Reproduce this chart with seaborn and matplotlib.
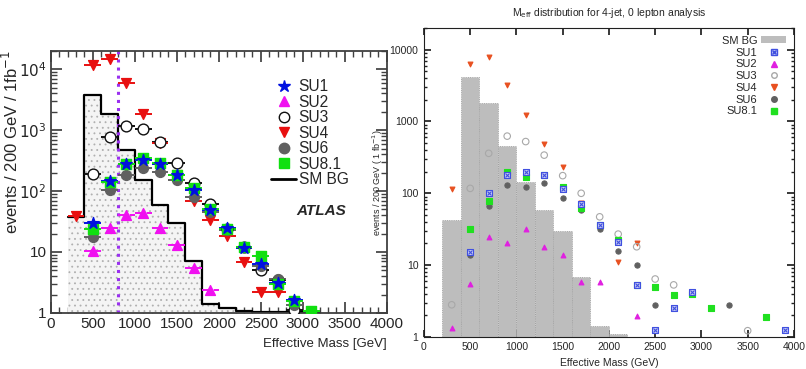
import numpy as np
import pandas as pd
import matplotlib
matplotlib.use("Agg")
import matplotlib.pyplot as plt
from matplotlib.ticker import FixedLocator, FixedFormatter, MultipleLocator, LogLocator, NullFormatter
from matplotlib.lines import Line2D
from matplotlib.patches import Patch
import seaborn as sns

# ---------------- data: left panel (ATLAS) ----------------
bin_edges = list(range(200, 3201, 200))
left_bg = [38, 3800, 1820, 470, 151, 60, 30, 7, 1.42, 1.2, 1.06, 1.04, 1.03, 1.02, 1.01]

left_x = {
    "SU1": [500, 700, 900, 1100, 1300, 1500, 1700, 1900, 2100, 2300, 2500, 2700, 2900],
    "SU2": [500, 700, 900, 1100, 1300, 1500, 1700, 1900],
    "SU3": [500, 700, 900, 1100, 1300, 1500, 1700, 1900, 2100, 2300, 2500, 2700, 2900],
    "SU4": [300, 500, 700, 900, 1100, 1300, 1500, 1700, 1900, 2100, 2300, 2500, 2700],
    "SU6": [500, 700, 900, 1100, 1300, 1500, 1700, 1900, 2100, 2300, 2500, 2700, 2900],
    "SU8.1": [500, 700, 900, 1100, 1300, 1500, 1700, 1900, 2100, 2300, 2500, 2700, 2900, 3100],
}
left_y = {
    "SU1": [30, 144, 276, 325, 276, 185, 105, 49, 25, 11.6, 6.3, 3.1, 1.6],
    "SU2": [10.2, 25, 41, 43, 24.7, 12.8, 5.5, 2.4],
    "SU3": [192, 767, 1180, 1040, 640, 290, 135, 61, 24, 12, 5, 3.5, 1.1],
    "SU4": [39.5, 11700, 15000, 6000, 1820, 610, 185, 68, 33, 18, 6.8, 2.2, 2.2],
    "SU6": [17.4, 105, 185, 240, 207, 150, 81, 45, 23, 12, 5.8, 3.6, 1.37],
    "SU8.1": [24, 139, 280, 345, 290, 185, 112, 50, 24, 12, 8.5, 3.0, 1.55, 1.09],
}

# ---------------- data: right panel ----------------
right_bg_edges = list(range(200, 2201, 200))
right_bg = [42.5, 4100, 1780, 460, 145, 59, 29.6, 6.9, 1.4, 1.1]

right_x = {
    "SU1": [500, 700, 900, 1100, 1300, 1500, 1700, 1900, 2100, 2300, 2500, 2700, 2900, 3900],
    "SU2": [300, 500, 700, 900, 1100, 1300, 1500, 1700, 1900, 2300],
    "SU3": [300, 500, 700, 900, 1100, 1300, 1500, 1700, 1900, 2100, 2300, 2500, 2700, 3500],
    "SU4": [300, 500, 700, 900, 1100, 1300, 1500, 1700, 2100, 2300],
    "SU6": [500, 700, 900, 1100, 1300, 1500, 1700, 1900, 2100, 2300, 2500, 3300],
    "SU8.1": [500, 700, 900, 1100, 1300, 1500, 1700, 1900, 2100, 2300, 2500, 2700, 2900, 3100, 3700],
}
right_y = {
    "SU1": [15, 100, 180, 200, 180, 113, 71, 36, 21, 5.2, 1.26, 2.5, 4.2, 1.26],
    "SU2": [1.32, 5.5, 25, 20.6, 32, 17.8, 13.9, 5.9, 5.9, 1.98],
    "SU3": [2.8, 117, 360, 625, 525, 340, 176, 100, 47, 27, 18, 6.4, 5.3, 1.22],
    "SU4": [116, 6400, 7800, 3240, 1230, 480, 235, 74, 11, 20.6],
    "SU6": [13.6, 67, 129, 123, 139, 86, 58.6, 32, 15.5, 10, 2.8, 2.8],
    "SU8.1": [32, 77, 195, 170, 180, 122, 63, 36, 22, 5.2, 5.0, 3.8, 3.9, 2.5, 1.9],
}

series = ["SU1", "SU2", "SU3", "SU4", "SU6", "SU8.1"]

left_style = {
    "SU1": dict(marker="*", color="#0010e0", fc="#0010e0", s=75),
    "SU2": dict(marker="^", color="#f010f0", fc="#f010f0", s=50),
    "SU3": dict(marker="o", color="#101010", fc="white", s=60),
    "SU4": dict(marker="v", color="#e81010", fc="#e81010", s=50),
    "SU6": dict(marker="o", color="#606060", fc="#606060", s=50),
    "SU8.1": dict(marker="s", color="#10e010", fc="#10e010", s=50),
}
right_style = {
    "SU1": dict(marker="s", color="#4050e0", fc="#c8ccf4", s=14),
    "SU2": dict(marker="^", color="#e020e0", fc="#e020e0", s=12),
    "SU3": dict(marker="o", color="#a8a8a8", fc="none", s=22),
    "SU4": dict(marker="v", color="#e85020", fc="#e85020", s=12),
    "SU6": dict(marker="o", color="#606060", fc="#606060", s=14),
    "SU8.1": dict(marker="s", color="#20e020", fc="#20e020", s=24),
}

sns.set_theme(style="ticks")
plt.rcParams["font.family"] = ["Liberation Sans", "DejaVu Sans"]
plt.rcParams["hatch.linewidth"] = 0.6
narrow = ["Liberation Sans Narrow", "DejaVu Sans Condensed", "Liberation Sans", "DejaVu Sans"]

fig = plt.figure(figsize=(8.06, 3.69), dpi=100)

# ======================= left panel =======================
ax = fig.add_axes([0.063, 0.152, 0.417, 0.710])
bg_left = pd.DataFrame({"m": [(a + b) / 2 for a, b in zip(bin_edges[:-1], bin_edges[1:])],
                        "w": left_bg})
# dotted fill, then black outline on top
sns.histplot(data=bg_left, x="m", weights="w", bins=bin_edges, element="step", fill=True,
             color="#f4f4f4", alpha=1, ax=ax, hatch="...", edgecolor="#b0b0b0", linewidth=0)
sns.histplot(data=bg_left, x="m", weights="w", bins=bin_edges, element="step", fill=False,
             color="black", ax=ax, linewidth=1.6)

for name in series:
    st = left_style[name]
    eb = ax.errorbar(left_x[name], left_y[name], xerr=100, fmt="none",
                     ecolor=st["color"], elinewidth=1.4, zorder=3)
    eb[2][0].set_linestyle((0, (4, 2)))
for name in ["SU4", "SU3", "SU6", "SU2", "SU8.1", "SU1"]:
    st = left_style[name]
    df = pd.DataFrame({"x": left_x[name], "y": left_y[name]})
    sns.scatterplot(data=df, x="x", y="y", marker=st["marker"], s=st["s"],
                    color=st["fc"], edgecolor=st["color"], linewidth=1.0,
                    ax=ax, zorder=4, legend=False)

ax.axvline(800, color="#9a30f0", linestyle=":", linewidth=2.2, zorder=2)

ax.set_yscale("log")
ax.set_xlim(0, 4000)
ax.set_ylim(1, 2.0e4)
ax.xaxis.set_major_locator(MultipleLocator(500))
ax.xaxis.set_minor_locator(MultipleLocator(100))
ax.yaxis.set_major_locator(FixedLocator([1, 10, 100, 1000, 10000]))
ax.yaxis.set_major_formatter(FixedFormatter(["1", "10", "$10^2$", "$10^3$", "$10^4$"]))
ax.yaxis.set_minor_locator(LogLocator(base=10, subs=np.arange(2, 10)))
ax.yaxis.set_minor_formatter(NullFormatter())
ax.tick_params(which="both", direction="in", top=True, right=True, color="#404040")
ax.tick_params(which="major", length=8, labelsize=11, pad=3)
ax.tick_params(which="minor", length=4)
for sp in ax.spines.values():
    sp.set_color("#404040")
    sp.set_linewidth(1.3)
ax.set_xlabel("Effective Mass [GeV]", loc="right", fontsize=9.5, labelpad=5)
ax.set_ylabel("events / 200 GeV / 1fb$^{-1}$", fontsize=12)
ax.yaxis.set_label_coords(-0.088, 0.65)

handles = []
for name in series:
    st = left_style[name]
    handles.append(Line2D([], [], linestyle="none", marker=st["marker"],
                          markerfacecolor=st["fc"], markeredgecolor=st["color"],
                          markersize=7.5 if name != "SU1" else 9, label=name))
handles.append(Line2D([], [], color="black", linewidth=2, label="SM BG"))
ax.legend(handles=handles, loc="upper left", bbox_to_anchor=(0.615, 0.945),
          frameon=False, fontsize=11.2, labelspacing=0.03, handlelength=1.6,
          handletextpad=0.15)
ax.text(0.805, 0.39, "ATLAS", transform=ax.transAxes, ha="center", va="center",
        fontsize=11, fontweight="bold", fontstyle="italic")

# ======================= right panel =======================
ax2 = fig.add_axes([0.526, 0.087, 0.459, 0.837])
bg_right = pd.DataFrame({"m": [(a + b) / 2 for a, b in zip(right_bg_edges[:-1], right_bg_edges[1:])],
                         "w": right_bg})
sns.histplot(data=bg_right, x="m", weights="w", bins=right_bg_edges, element="bars",
             color="#bdbdbd", alpha=1, ax=ax2, edgecolor="#999999",
             linewidth=0.6, linestyle=":")

for name in ["SU2", "SU4", "SU3", "SU6", "SU8.1", "SU1"]:
    st = right_style[name]
    df = pd.DataFrame({"x": right_x[name], "y": right_y[name]})
    sns.scatterplot(data=df, x="x", y="y", marker=st["marker"], s=st["s"],
                    color=st["fc"], edgecolor=st["color"], linewidth=0.8,
                    ax=ax2, zorder=4, legend=False)
    if name == "SU1":
        sns.scatterplot(data=df, x="x", y="y", marker="x", s=8, color=st["color"],
                        linewidth=0.8, ax=ax2, zorder=5, legend=False)

ax2.set_yscale("log")
ax2.set_xlim(0, 4000)
ax2.set_ylim(1, 2.0e4)
ax2.xaxis.set_major_locator(MultipleLocator(500))
ax2.yaxis.set_major_locator(FixedLocator([1, 10, 100, 1000, 10000]))
ax2.yaxis.set_major_formatter(FixedFormatter(["1", "10", "100", "1000", "10000"]))
ax2.yaxis.set_minor_locator(LogLocator(base=10, subs=np.arange(2, 10)))
ax2.yaxis.set_minor_formatter(NullFormatter())
ax2.tick_params(which="both", direction="in", top=True, right=True, color="#202020")
ax2.tick_params(which="major", length=5, labelsize=7.5, pad=4)
ax2.tick_params(which="minor", length=2.5)
for lab in ax2.get_xticklabels() + ax2.get_yticklabels():
    lab.set_family(narrow)
for sp in ax2.spines.values():
    sp.set_color("#202020")
    sp.set_linewidth(0.8)
ax2.set_xlabel("Effective Mass (GeV)", fontsize=7.5, labelpad=4, family=narrow)
ax2.set_ylabel("events / 200 GeV ( 1 fb$^{-1}$)", fontsize=6.5, labelpad=3, family=narrow)
ax2.set_title("M$_{\\mathrm{eff}}$ distribution for 4-jet, 0 lepton analysis",
              fontsize=7.5, pad=9, family=narrow)

h2 = [Patch(facecolor="#bdbdbd", edgecolor="none", label="SM BG")]
for name in series:
    st = right_style[name]
    h = Line2D([], [], linestyle="none", marker=st["marker"], markerfacecolor=st["fc"],
               markeredgecolor=st["color"], markersize=4, label=name)
    if name == "SU1":
        hx = Line2D([], [], linestyle="none", marker="x", color=st["color"], markersize=3)
        h = (h, hx)
    h2.append(h)
ax2.legend(handles=h2, labels=["SM BG"] + series, loc="upper right",
           bbox_to_anchor=(1.0, 1.0), frameon=False,
           prop=dict(family=narrow, size=8),
           markerfirst=False, labelspacing=0.16, handlelength=2.25,
           handleheight=0.6, handletextpad=0.35, borderaxespad=0.3)

fig.savefig("out.png", dpi=100)
